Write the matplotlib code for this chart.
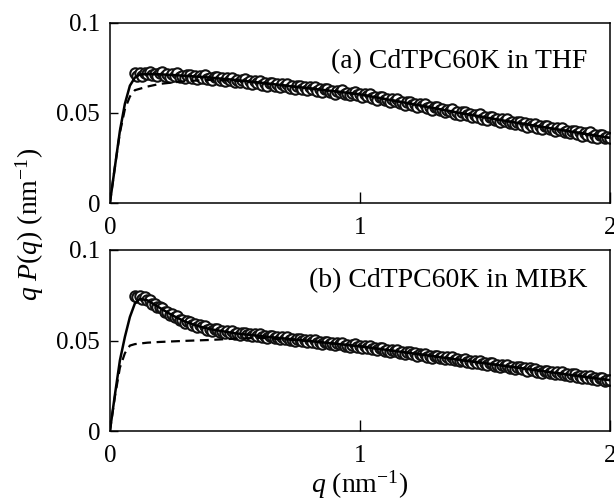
import numpy as np
from matplotlib import pyplot as plt
plt.rcParams["font.family"] = "Liberation Serif"
plt.rcParams["mathtext.fontset"] = "custom"
plt.rcParams["mathtext.rm"] = "Liberation Serif"
plt.rcParams["mathtext.it"] = "Liberation Serif:italic"

""" DATA """
q_data = [0.10, 0.11, 0.12, 0.13, 0.14, 0.15, 0.16, 0.17, 0.18, 0.19,
          0.20, 0.21, 0.22, 0.23, 0.24, 0.25, 0.26, 0.27, 0.28, 0.29,
          0.30, 0.31, 0.32, 0.33, 0.34, 0.35, 0.36, 0.37, 0.38, 0.39,
          0.40, 0.41, 0.42, 0.43, 0.44, 0.45, 0.46, 0.47, 0.48, 0.49,
          0.50, 0.51, 0.52, 0.53, 0.54, 0.55, 0.56, 0.57, 0.58, 0.59,
          0.60, 0.61, 0.62, 0.63, 0.64, 0.65, 0.66, 0.67, 0.68, 0.69,
          0.70, 0.71, 0.72, 0.73, 0.74, 0.75, 0.76, 0.77, 0.78, 0.79,
          0.80, 0.81, 0.82, 0.83, 0.84, 0.85, 0.86, 0.87, 0.88, 0.89,
          0.90, 0.91, 0.92, 0.93, 0.94, 0.95, 0.96, 0.97, 0.98, 0.99,
          1.00, 1.01, 1.02, 1.03, 1.04, 1.05, 1.06, 1.07, 1.08, 1.09,
          1.10, 1.11, 1.12, 1.13, 1.14, 1.15, 1.16, 1.17, 1.18, 1.19,
          1.20, 1.21, 1.22, 1.23, 1.24, 1.25, 1.26, 1.27, 1.28, 1.29,
          1.30, 1.31, 1.32, 1.33, 1.34, 1.35, 1.36, 1.37, 1.38, 1.39,
          1.40, 1.41, 1.42, 1.43, 1.44, 1.45, 1.46, 1.47, 1.48, 1.49,
          1.50, 1.51, 1.52, 1.53, 1.54, 1.55, 1.56, 1.57, 1.58, 1.59,
          1.60, 1.61, 1.62, 1.63, 1.64, 1.65, 1.66, 1.67, 1.68, 1.69,
          1.70, 1.71, 1.72, 1.73, 1.74, 1.75, 1.76, 1.77, 1.78, 1.79,
          1.80, 1.81, 1.82, 1.83, 1.84, 1.85, 1.86, 1.87, 1.88, 1.89,
          1.90, 1.91, 1.92, 1.93, 1.94, 1.95, 1.96, 1.97, 1.98, 1.99,
          2.00]

# (a) THF
thf_data = [0.0719, 0.0706, 0.0718, 0.0704, 0.0722, 0.0714, 0.0728, 0.0707, 0.0717, 0.0704,
            0.0720, 0.0723, 0.0706, 0.0715, 0.0699, 0.0716, 0.0706, 0.0719, 0.0697, 0.0706,
            0.0693, 0.0708, 0.0711, 0.0694, 0.0703, 0.0687, 0.0703, 0.0694, 0.0707, 0.0685,
            0.0694, 0.0681, 0.0696, 0.0699, 0.0682, 0.0691, 0.0674, 0.0691, 0.0682, 0.0695,
            0.0673, 0.0681, 0.0668, 0.0682, 0.0685, 0.0667, 0.0675, 0.0659, 0.0675, 0.0666,
            0.0678, 0.0655, 0.0664, 0.0650, 0.0665, 0.0667, 0.0649, 0.0658, 0.0641, 0.0658,
            0.0648, 0.0660, 0.0638, 0.0646, 0.0633, 0.0647, 0.0649, 0.0632, 0.0640, 0.0624,
            0.0640, 0.0630, 0.0643, 0.0620, 0.0629, 0.0615, 0.0629, 0.0632, 0.0614, 0.0623,
            0.0606, 0.0622, 0.0613, 0.0625, 0.0603, 0.0611, 0.0597, 0.0612, 0.0614, 0.0597,
            0.0605, 0.0587, 0.0603, 0.0592, 0.0604, 0.0580, 0.0588, 0.0573, 0.0587, 0.0588,
            0.0569, 0.0577, 0.0559, 0.0575, 0.0564, 0.0576, 0.0552, 0.0559, 0.0545, 0.0558,
            0.0560, 0.0541, 0.0549, 0.0531, 0.0546, 0.0536, 0.0547, 0.0524, 0.0531, 0.0517,
            0.0530, 0.0531, 0.0513, 0.0520, 0.0503, 0.0518, 0.0508, 0.0519, 0.0495, 0.0503,
            0.0488, 0.0502, 0.0503, 0.0485, 0.0492, 0.0474, 0.0490, 0.0479, 0.0491, 0.0467,
            0.0475, 0.0461, 0.0474, 0.0476, 0.0458, 0.0466, 0.0448, 0.0464, 0.0454, 0.0465,
            0.0442, 0.0450, 0.0436, 0.0449, 0.0451, 0.0433, 0.0441, 0.0423, 0.0439, 0.0429,
            0.0440, 0.0417, 0.0425, 0.0411, 0.0424, 0.0426, 0.0408, 0.0416, 0.0398, 0.0414,
            0.0404, 0.0416, 0.0392, 0.0400, 0.0386, 0.0399, 0.0401, 0.0383, 0.0391, 0.0373,
            0.0389, 0.0379, 0.0391, 0.0367, 0.0375, 0.0361, 0.0374, 0.0376, 0.0358, 0.0366,
            0.0360]

# (b) MIBK
mibk_data = [0.0748, 0.0741, 0.0746, 0.0731, 0.0738, 0.0724, 0.0726, 0.0702, 0.0701, 0.0684,
             0.0687, 0.0681, 0.0659, 0.0659, 0.0641, 0.0646, 0.0632, 0.0635, 0.0613, 0.0614,
             0.0599, 0.0606, 0.0604, 0.0586, 0.0589, 0.0574, 0.0583, 0.0572, 0.0578, 0.0560,
             0.0565, 0.0553, 0.0562, 0.0563, 0.0547, 0.0553, 0.0541, 0.0552, 0.0543, 0.0551,
             0.0534, 0.0541, 0.0530, 0.0541, 0.0542, 0.0528, 0.0534, 0.0523, 0.0534, 0.0526,
             0.0534, 0.0518, 0.0524, 0.0514, 0.0525, 0.0526, 0.0512, 0.0518, 0.0507, 0.0518,
             0.0510, 0.0518, 0.0502, 0.0508, 0.0498, 0.0508, 0.0510, 0.0496, 0.0502, 0.0491,
             0.0502, 0.0494, 0.0502, 0.0486, 0.0492, 0.0482, 0.0492, 0.0494, 0.0479, 0.0486,
             0.0475, 0.0486, 0.0478, 0.0486, 0.0470, 0.0476, 0.0466, 0.0476, 0.0478, 0.0463,
             0.0470, 0.0458, 0.0469, 0.0460, 0.0469, 0.0452, 0.0458, 0.0447, 0.0457, 0.0458,
             0.0443, 0.0449, 0.0438, 0.0449, 0.0440, 0.0448, 0.0431, 0.0437, 0.0426, 0.0436,
             0.0438, 0.0423, 0.0429, 0.0417, 0.0428, 0.0419, 0.0427, 0.0410, 0.0417, 0.0406,
             0.0416, 0.0417, 0.0402, 0.0408, 0.0396, 0.0407, 0.0399, 0.0407, 0.0390, 0.0396,
             0.0385, 0.0395, 0.0396, 0.0381, 0.0388, 0.0376, 0.0387, 0.0378, 0.0386, 0.0369,
             0.0375, 0.0364, 0.0375, 0.0376, 0.0361, 0.0367, 0.0355, 0.0366, 0.0357, 0.0365,
             0.0349, 0.0355, 0.0344, 0.0354, 0.0355, 0.0340, 0.0346, 0.0334, 0.0346, 0.0337,
             0.0345, 0.0328, 0.0334, 0.0323, 0.0333, 0.0334, 0.0320, 0.0326, 0.0314, 0.0325,
             0.0316, 0.0324, 0.0307, 0.0313, 0.0303, 0.0313, 0.0314, 0.0299, 0.0305, 0.0293,
             0.0304, 0.0295, 0.0304, 0.0287, 0.0293, 0.0282, 0.0292, 0.0293, 0.0278, 0.0284,
             0.0281]

# fitted curves (solid) and comparison curves (dashed)
q_fit_thf = [0, 0.02, 0.04, 0.06, 0.08, 0.10, 0.12, 0.15, 0.2, 0.3, 0.4, 0.5, 0.6,
             0.7, 0.8, 0.9, 1.0, 1.2, 1.4, 1.6, 1.8, 2.0]
thf_fit = [0, 0.020, 0.040, 0.055, 0.065, 0.0695, 0.0712, 0.0714, 0.0713, 0.0705,
           0.0695, 0.0682, 0.0667, 0.0651, 0.0635, 0.0619, 0.0602, 0.0551, 0.0499,
           0.0451, 0.0406, 0.0361]
q_dash_thf = [0, 0.02, 0.04, 0.06, 0.08, 0.10, 0.15, 0.2, 0.3, 0.4, 0.5, 0.6, 0.8,
              1.0, 1.2, 1.4, 1.6, 1.8, 2.0]
thf_dash = [0, 0.020, 0.039, 0.052, 0.059, 0.0625, 0.0645, 0.0660, 0.0675, 0.0682,
            0.0678, 0.0666, 0.0635, 0.0602, 0.0551, 0.0499, 0.0451, 0.0406, 0.0361]

q_fit_mibk = [0, 0.02, 0.04, 0.06, 0.08, 0.10, 0.12, 0.15, 0.2, 0.25, 0.3, 0.35,
              0.4, 0.5, 0.6, 0.8, 1.0, 1.2, 1.4, 1.6, 1.8, 2.0]
mibk_fit = [0, 0.020, 0.039, 0.052, 0.063, 0.0705, 0.0730, 0.0722, 0.0680, 0.0639,
            0.0605, 0.0581, 0.0563, 0.0540, 0.0525, 0.0497, 0.0468, 0.0431, 0.0393,
            0.0356, 0.0318, 0.0281]
q_dash_mibk = [0, 0.02, 0.04, 0.06, 0.08, 0.10, 0.15, 0.2, 0.3, 0.4, 0.5, 0.6, 0.8,
               1.0, 1.2, 1.4, 1.6, 1.8, 2.0]
mibk_dash = [0, 0.019, 0.035, 0.043, 0.0472, 0.0480, 0.0488, 0.0492, 0.0498, 0.0503,
             0.0510, 0.0515, 0.0497, 0.0468, 0.0431, 0.0393, 0.0356, 0.0318, 0.0281]

panels = [("(a) CdTPC60K in THF", thf_data, q_fit_thf, thf_fit, q_dash_thf, thf_dash),
          ("(b) CdTPC60K in MIBK", mibk_data, q_fit_mibk, mibk_fit, q_dash_mibk, mibk_dash)]

fig = plt.figure(figsize=(6.14, 5.0), dpi=100)
ax_top = fig.add_axes([0.179, 0.594, 0.814, 0.361])
ax_bot = fig.add_axes([0.179, 0.138, 0.814, 0.362])
label_y = [0.75, 0.795]

for i, (ax, panel) in enumerate(zip([ax_top, ax_bot], panels)):
    title, y_data, qf, yf, qd, yd = panel
    ax.plot(q_data, y_data, "o", ms=7.5, mfc="white", mec="#111111", mew=1.5, zorder=2)
    ax.plot(qd, yd, color="k", lw=1.6, ls=(0, (4, 2.5)), zorder=3)
    ax.plot(qf, yf, color="k", lw=1.8, zorder=4)

    ax.set_xlim(0, 2)
    ax.set_ylim(0, 0.1)
    ax.set_xticks([0, 1, 2])
    ax.set_xticklabels(["0", "1", "2"])
    ax.set_yticks([0, 0.05, 0.1])
    ax.set_yticklabels(["0", "0.05", "0.1"])
    ax.tick_params(axis="x", direction="in", length=8, width=1, pad=10, labelsize=18)
    ax.tick_params(axis="y", direction="in", length=6, width=1, pad=7, labelsize=18)
    for sp in ax.spines.values():
        sp.set_linewidth(1.1)

    ax.text(0.955, label_y[i], title, transform=ax.transAxes, ha="right",
            va="baseline", fontsize=20)

fig.text(0.049, 0.552, r"$q\ P(q)$ (nm$^{-1}$)", rotation=90, ha="center",
         va="center", fontsize=20)
fig.text(0.586, 0.03, r"$q$ (nm$^{-1}$)", ha="center", va="center", fontsize=20)

plt.savefig("out.png")
